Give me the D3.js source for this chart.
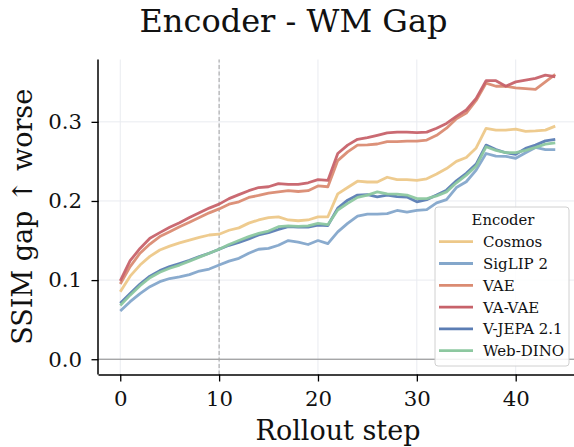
<!DOCTYPE html>
<html>
<head>
<meta charset="utf-8">
<script src="https://cdn.jsdelivr.net/npm/d3@7"></script>
<style>
  body { margin: 0; background: #fff; }
  svg { font-family: "DejaVu Serif", serif; }
</style>
</head>
<body>
<div id="chart"></div>
<script>
const steps = d3.range(0, 45)
const cosmos = [0.0854, 0.105, 0.119, 0.130, 0.138, 0.143, 0.147, 0.1506, 0.154, 0.157, 0.158, 0.163, 0.166, 0.172, 0.176, 0.179, 0.180, 0.176, 0.175, 0.176, 0.180, 0.180, 0.209, 0.217, 0.225, 0.224, 0.224, 0.230, 0.227, 0.227, 0.226, 0.228, 0.234, 0.241, 0.250, 0.255, 0.267, 0.2917, 0.2896, 0.2896, 0.2908, 0.288, 0.2885, 0.2896, 0.2946]
const siglip = [0.061, 0.0727, 0.083, 0.0917, 0.098, 0.102, 0.104, 0.107, 0.1115, 0.114, 0.119, 0.124, 0.1275, 0.134, 0.139, 0.140, 0.144, 0.150, 0.148, 0.145, 0.150, 0.146, 0.161, 0.1717, 0.181, 0.1835, 0.1835, 0.184, 0.188, 0.186, 0.188, 0.189, 0.1977, 0.2017, 0.217, 0.2243, 0.239, 0.260, 0.2567, 0.2563, 0.254, 0.261, 0.2677, 0.265, 0.265]
const vae = [0.095, 0.117, 0.134, 0.1456, 0.155, 0.161, 0.1675, 0.173, 0.179, 0.185, 0.190, 0.196, 0.199, 0.2045, 0.207, 0.210, 0.2115, 0.213, 0.212, 0.213, 0.219, 0.218, 0.251, 0.262, 0.2706, 0.271, 0.272, 0.275, 0.275, 0.2756, 0.2756, 0.277, 0.283, 0.292, 0.304, 0.311, 0.327, 0.349, 0.345, 0.345, 0.343, 0.342, 0.341, 0.3505, 0.360]
const vavae = [0.099, 0.1245, 0.140, 0.153, 0.160, 0.1667, 0.1725, 0.179, 0.185, 0.191, 0.196, 0.203, 0.208, 0.213, 0.217, 0.218, 0.222, 0.221, 0.221, 0.223, 0.227, 0.226, 0.260, 0.2706, 0.278, 0.280, 0.283, 0.286, 0.287, 0.287, 0.2865, 0.287, 0.292, 0.298, 0.307, 0.315, 0.3296, 0.352, 0.352, 0.345, 0.3505, 0.3527, 0.355, 0.359, 0.357]
const vjepa = [0.0707, 0.083, 0.095, 0.105, 0.112, 0.117, 0.121, 0.125, 0.1296, 0.134, 0.139, 0.144, 0.1477, 0.152, 0.157, 0.160, 0.164, 0.1675, 0.167, 0.167, 0.1696, 0.169, 0.191, 0.201, 0.2075, 0.208, 0.2053, 0.2075, 0.2055, 0.205, 0.199, 0.2017, 0.2075, 0.2137, 0.2255, 0.235, 0.2466, 0.2706, 0.265, 0.261, 0.259, 0.2665, 0.2706, 0.276, 0.278]
const webdino = [0.068, 0.081, 0.093, 0.103, 0.110, 0.115, 0.119, 0.124, 0.129, 0.134, 0.139, 0.145, 0.150, 0.155, 0.159, 0.162, 0.1675, 0.1685, 0.168, 0.1685, 0.1717, 0.170, 0.1886, 0.197, 0.2045, 0.2075, 0.2115, 0.209, 0.2087, 0.2075, 0.203, 0.203, 0.2065, 0.2115, 0.223, 0.2327, 0.244, 0.2685, 0.264, 0.261, 0.261, 0.264, 0.2677, 0.2718, 0.2735]

const names = ['Cosmos', 'SigLIP 2', 'VAE', 'VA-VAE', 'V-JEPA 2.1', 'Web-DINO']
const colors = ['#EDC889', '#84A7CB', '#DA8B72', '#C7626A', '#5B7DB4', '#8DC8A0']
const xTicks = [0, 10, 20, 30, 40]
const yTicks = [0.0, 0.1, 0.2, 0.3]
const series = [cosmos, siglip, vae, vavae, vjepa, webdino]

const width = 574, height = 447
const margin = {left: 98.5, right: -3, top: 59.5, bottom: 72.5}

const svg = d3.select('#chart').append('svg')
  .attr('width', width).attr('height', height)

const x = d3.scaleLinear().domain([-2.2, 46.2]).range([margin.left, width - margin.right])
const y = d3.scaleLinear().domain([-0.0193, 0.3788]).range([height - margin.bottom, margin.top])

// grid
const grid = svg.append('g').attr('stroke', '#e9ebf0').attr('stroke-width', 1)
grid.selectAll('.gx').data(xTicks).join('line')
  .attr('x1', d => x(d)).attr('x2', d => x(d))
  .attr('y1', y.range()[0]).attr('y2', y.range()[1])
grid.selectAll('.gy').data(yTicks).join('line')
  .attr('y1', d => y(d)).attr('y2', d => y(d))
  .attr('x1', x.range()[0]).attr('x2', x.range()[1])

// zero line + marker at step 10
svg.append('line')
  .attr('x1', x.range()[0]).attr('x2', x.range()[1])
  .attr('y1', y(0)).attr('y2', y(0))
  .attr('stroke', '#8a8a8a').attr('stroke-width', 1)
svg.append('line')
  .attr('x1', x(10)).attr('x2', x(10))
  .attr('y1', y.range()[0]).attr('y2', y.range()[1])
  .attr('stroke', '#a8a8a8').attr('stroke-width', 1.1)
  .attr('stroke-dasharray', '4,2.5')

// lines
const line = d3.line().x((d, i) => x(steps[i])).y(d => y(d))
svg.append('g').selectAll('path').data(series).join('path')
  .attr('d', d => line(d))
  .attr('fill', 'none')
  .attr('stroke', (d, i) => colors[i])
  .attr('stroke-width', 2.8)
  .attr('stroke-opacity', 0.95)
  .attr('stroke-linejoin', 'round')

// axes
const xAxis = svg.append('g')
  .attr('transform', `translate(0,${y.range()[0]})`)
  .call(d3.axisBottom(x).tickValues(xTicks).tickSize(7).tickPadding(9).tickFormat(d3.format('d')))
const yAxis = svg.append('g')
  .attr('transform', `translate(${x.range()[0]},0)`)
  .call(d3.axisLeft(y).tickValues(yTicks).tickSize(7).tickPadding(9.5).tickFormat(d3.format('.1f')))
;[xAxis, yAxis].forEach(a => {
  a.select('.domain').attr('stroke', '#000').attr('stroke-width', 1.5)
  a.selectAll('.tick line').attr('stroke', '#000').attr('stroke-width', 1.3)
  a.selectAll('.tick text').attr('font-family', 'DejaVu Serif').attr('font-size', 21.3).attr('fill', '#111')
})
xAxis.select('.domain').attr('d', `M${x.range()[0]},0.5H${x.range()[1]}`)
yAxis.select('.domain').attr('d', `M-0.5,${y.range()[0]}V${y.range()[1]}`)

// titles
svg.append('text').attr('x', 293.5).attr('y', 31.7)
  .attr('text-anchor', 'middle').attr('font-size', 32).attr('fill', '#111')
  .text('Encoder - WM Gap')
svg.append('text').attr('x', 338).attr('y', 440)
  .attr('text-anchor', 'middle').attr('font-size', 27).attr('fill', '#111')
  .text('Rollout step')
svg.append('text')
  .attr('transform', `translate(32,${y(0.18)}) rotate(-90)`)
  .attr('text-anchor', 'middle').attr('font-size', 27).attr('fill', '#111')
  .text('SSIM gap ↑ worse')

// legend
const lg = svg.append('g').attr('transform', 'translate(435,207)')
lg.append('rect').attr('width', 134).attr('height', 159).attr('rx', 3)
  .attr('fill', 'rgba(255,255,255,0.85)').attr('stroke', '#d0d0d0').attr('stroke-width', 1)
lg.append('text').attr('x', 68).attr('y', 18).attr('text-anchor', 'middle')
  .attr('font-size', 14.8).attr('fill', '#111').text('Encoder')
const rows = lg.selectAll('.row').data(names).join('g')
  .attr('transform', (d, i) => `translate(0,${34.7 + i * 21.8})`)
rows.append('line').attr('x1', 4).attr('x2', 38)
  .attr('stroke', (d, i) => colors[i]).attr('stroke-width', 2.8)
rows.append('text').attr('x', 48).attr('y', 5.5)
  .attr('font-size', 15).attr('fill', '#111').text(d => d)
</script>
</body>
</html>
